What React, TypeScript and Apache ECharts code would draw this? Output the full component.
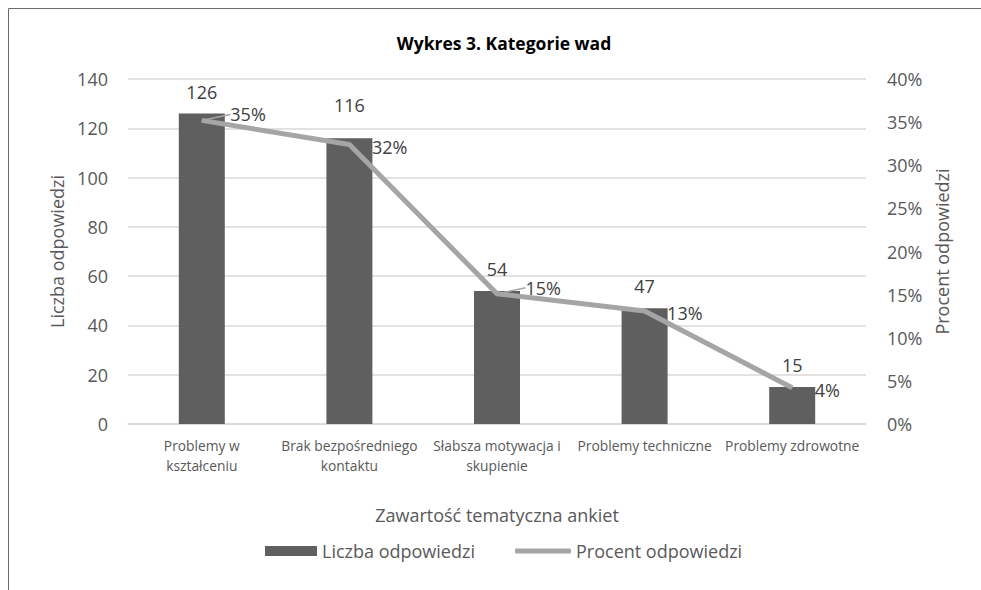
import React, { useEffect, useRef } from "react";
import * as echarts from "echarts";

const categories = [
  "Problemy w\nkształceniu",
  "Brak bezpośredniego\nkontaktu",
  "Słabsza motywacja i\nskupienie",
  "Problemy techniczne",
  "Problemy zdrowotne",
];
const counts = [126, 116, 54, 47, 15];
const percents = [35.2, 32.4, 15.1, 13.1, 4.2];
const leftTicks = { min: 0, max: 140, interval: 20 };
const rightTicks = { min: 0, max: 40, interval: 5 };

const FONT = "'Open Sans', 'Noto Sans', sans-serif";

export default function App() {
  const ref = useRef<HTMLDivElement>(null);
  useEffect(() => {
    if (!ref.current) return;
    const chart = echarts.init(ref.current, undefined, { renderer: "svg" });
    const barLabelDistance = [13, 24, 13, 13, 13];
    const leader = [true, false, true, false, false];
    chart.setOption({
      animation: false,
      backgroundColor: "#ffffff",
      textStyle: { fontFamily: FONT },
      title: {
        text: "Wykres 3. Kategorie wad",
        left: 499,
        top: 29,
        textAlign: "center",
        textStyle: { fontFamily: FONT, fontSize: 17.5, fontWeight: "bold", color: "#000000" },
      },
      graphic: [
        { type: "line", shape: { x1: 8.5, y1: 8.5, x2: 981, y2: 8.5 }, style: { stroke: "#6b6b6b", lineWidth: 1 } },
        { type: "line", shape: { x1: 8.5, y1: 8.5, x2: 8.5, y2: 590 }, style: { stroke: "#6b6b6b", lineWidth: 1 } },
      ],
      grid: { left: 128, right: 115, top: 79, bottom: 166 },
      legend: [
        {
          data: ["Liczba odpowiedzi"],
          left: 265,
          top: 542,
          padding: 0,
          itemWidth: 52,
          itemHeight: 10,
          icon: "rect",
          textStyle: { fontFamily: FONT, fontSize: 18, color: "#595959" },
        },
        {
          data: ["Procent odpowiedzi"],
          left: 515,
          top: 542,
          padding: 0,
          itemWidth: 56,
          itemHeight: 5,
          icon: "roundRect",
          textStyle: { fontFamily: FONT, fontSize: 18, color: "#595959" },
        },
      ],
      xAxis: {
        type: "category",
        data: categories,
        name: "Zawartość tematyczna ankiet",
        nameLocation: "middle",
        nameGap: 82,
        nameTextStyle: { fontFamily: FONT, fontSize: 18, color: "#595959" },
        axisLine: { lineStyle: { color: "#d9d9d9", width: 1.5 } },
        axisTick: { show: false },
        axisLabel: {
          interval: 0,
          margin: 11,
          fontFamily: FONT,
          fontSize: 13.8,
          lineHeight: 20,
          color: "#595959",
        },
      },
      yAxis: [
        {
          type: "value",
          ...leftTicks,
          name: "Liczba odpowiedzi",
          nameLocation: "middle",
          nameGap: 62,
          nameTextStyle: { fontFamily: FONT, fontSize: 18, color: "#595959" },
          axisLine: { show: false },
          axisTick: { show: false },
          axisLabel: { margin: 20, fontFamily: FONT, fontSize: 18, color: "#595959" },
          splitLine: { lineStyle: { color: "#d9d9d9", width: 1.5 } },
        },
        {
          type: "value",
          ...rightTicks,
          position: "right",
          name: "Procent odpowiedzi",
          nameLocation: "middle",
          nameGap: 66,
          nameTextStyle: { fontFamily: FONT, fontSize: 18, color: "#595959" },
          axisLine: { show: false },
          axisTick: { show: false },
          axisLabel: { margin: 21, fontFamily: FONT, fontSize: 18, color: "#595959", formatter: "{value}%" },
          splitLine: { show: false },
        },
      ],
      series: [
        {
          name: "Liczba odpowiedzi",
          type: "bar",
          yAxisIndex: 0,
          barWidth: 46,
          itemStyle: { color: "#5f5f5f" },
          data: counts.map((v, i) => ({
            value: v,
            label: { distance: barLabelDistance[i] },
          })),
          label: {
            show: true,
            position: "top",
            fontFamily: FONT,
            fontSize: 18,
            color: "#404040",
          },
        },
        {
          name: "Procent odpowiedzi",
          type: "line",
          yAxisIndex: 1,
          symbol: "circle",
          symbolSize: 1,
          itemStyle: { color: "#a5a5a5" },
          lineStyle: { color: "#a5a5a5", width: 5 },
          data: percents.map((v, i) => ({
            value: v,
            labelLine: { show: leader[i] },
          })),
          label: {
            show: true,
            position: "right",
            distance: 22,
            fontFamily: FONT,
            fontSize: 18,
            color: "#404040",
            formatter: (p: any) => Math.round(p.value) + "%",
          },
          labelLine: {
            show: false,
            smooth: false,
            length2: 0,
            lineStyle: { color: "#a5a5a5", width: 1.5 },
          },
          labelLayout: (p: any) =>
            leader[p.dataIndex] ? { dx: 6, dy: -6 } : { dy: 2 },
        },
      ],
    });
    return () => chart.dispose();
  }, []);
  return (
    <div style={{ position: "absolute", left: 0, top: 0, width: 981, height: 590 }}>
      <div ref={ref} style={{ width: 981, height: 590 }} />
    </div>
  );
}
